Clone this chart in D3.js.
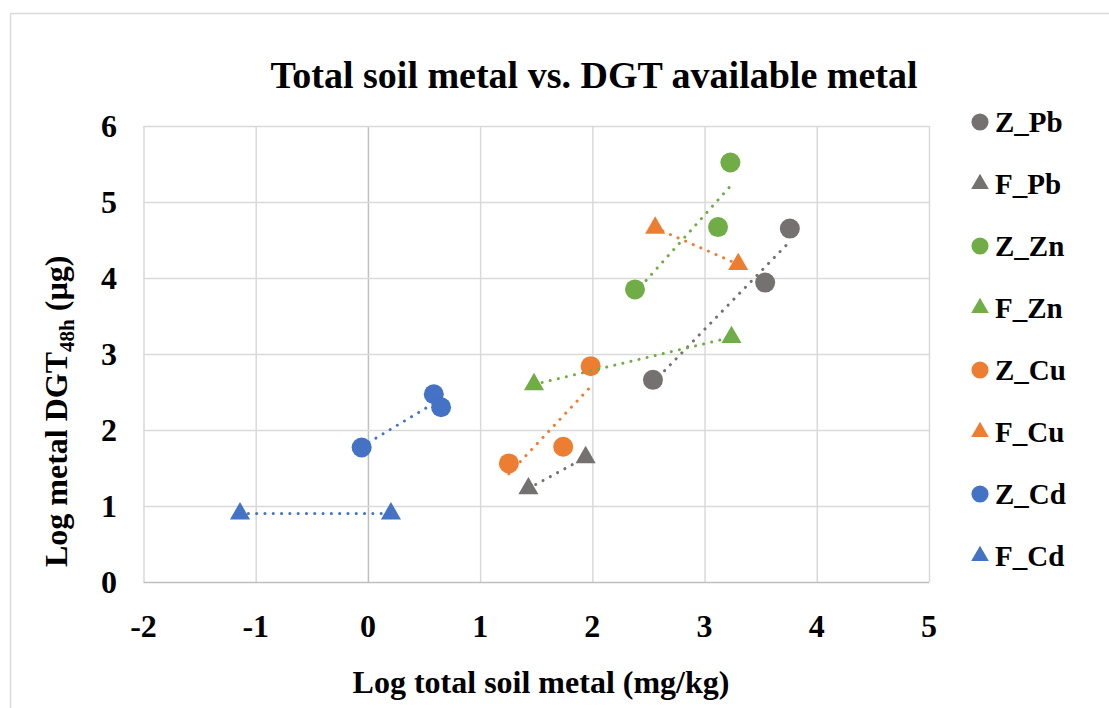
<html>
<head>
<meta charset="utf-8">
<title>Total soil metal vs. DGT available metal</title>
<script src="https://cdnjs.cloudflare.com/ajax/libs/d3/7.8.5/d3.min.js"></script>
<style>
  body { margin: 0; background: #fff; }
  text { font-family: "Liberation Serif", "Times New Roman", serif; font-weight: bold; fill: #000; }
</style>
</head>
<body>
<script>
// data: [log total soil metal, log DGT metal]
var zPb = [[2.54, 2.66], [3.54, 3.94], [3.76, 4.65]];
var fPb = [[1.43, 1.23], [1.94, 1.64]];
var zZn = [[2.38, 3.85], [3.12, 4.67], [3.23, 5.52]];
var fZn = [[1.48, 2.60], [3.24, 3.22]];
var zCu = [[1.256, 1.56], [1.74, 1.78], [1.985, 2.84]];
var fCu = [[2.56, 4.66], [3.30, 4.18]];
var zCd = [[-0.056, 1.77], [0.587, 2.47], [0.652, 2.30]];
var fCd = [[-1.14, 0.90], [0.205, 0.90]];

var seriesNames = ["Z_Pb", "F_Pb", "Z_Zn", "F_Zn", "Z_Cu", "F_Cu", "Z_Cd", "F_Cd"];
var xTicks = [-2, -1, 0, 1, 2, 3, 4, 5];
var yTicks = [0, 1, 2, 3, 4, 5, 6];

var width = 1109, height = 708;
var plotLeft = 143.5, plotRight = 929, plotTop = 126, plotBottom = 582;

var gray = "#767171", green = "#70ad47", orange = "#ed7d31", blue = "#4472c4";
var series = [
  { name: seriesNames[0], pts: zPb, color: gray, shape: "circle" },
  { name: seriesNames[1], pts: fPb, color: gray, shape: "triangle" },
  { name: seriesNames[2], pts: zZn, color: green, shape: "circle" },
  { name: seriesNames[3], pts: fZn, color: green, shape: "triangle" },
  { name: seriesNames[4], pts: zCu, color: orange, shape: "circle" },
  { name: seriesNames[5], pts: fCu, color: orange, shape: "triangle" },
  { name: seriesNames[6], pts: zCd, color: blue, shape: "circle" },
  { name: seriesNames[7], pts: fCd, color: blue, shape: "triangle" }
];

var svg = d3.select("body").append("svg")
  .attr("width", width)
  .attr("height", height);

// outer chart border
svg.append("rect")
  .attr("x", 10.5).attr("y", 13.5)
  .attr("width", width).attr("height", height)
  .attr("fill", "#fff")
  .attr("stroke", "#d9d9d9")
  .attr("stroke-width", 1.5);

var xScale = d3.scaleLinear().domain([-2, 5]).range([plotLeft, plotRight]);
var yScale = d3.scaleLinear().domain([0, 6]).range([plotBottom, plotTop]);

// gridlines
svg.append("g")
  .attr("transform", "translate(0," + plotBottom + ")")
  .call(d3.axisBottom(xScale).tickValues(xTicks).tickSize(-(plotBottom - plotTop)).tickFormat(""))
  .call(function(g) { g.select(".domain").remove(); })
  .selectAll(".tick line")
  .attr("stroke", function(d) { return d === 0 ? "#bfbfbf" : "#d9d9d9"; })
  .attr("stroke-width", 1.5);

svg.append("g")
  .attr("transform", "translate(" + plotLeft + ",0)")
  .call(d3.axisLeft(yScale).tickValues(yTicks).tickSize(-(plotRight - plotLeft)).tickFormat(""))
  .call(function(g) { g.select(".domain").remove(); })
  .selectAll(".tick line")
  .attr("stroke", function(d) { return d === 0 ? "#bfbfbf" : "#d9d9d9"; })
  .attr("stroke-width", 1.5);

// tick labels
svg.selectAll(null)
  .data(xTicks)
  .enter().append("text")
  .attr("x", function(d) { return xScale(d); })
  .attr("y", 637)
  .attr("text-anchor", "middle")
  .style("font-size", "32px")
  .text(function(d) { return d; });

svg.selectAll(null)
  .data(yTicks)
  .enter().append("text")
  .attr("x", 117)
  .attr("y", function(d) { return yScale(d) + 11; })
  .attr("text-anchor", "end")
  .style("font-size", "32px")
  .text(function(d) { return d; });

// linear trendlines (least squares, like Excel)
function trend(pts) {
  var mx = d3.mean(pts, function(p) { return p[0]; });
  var my = d3.mean(pts, function(p) { return p[1]; });
  var sxy = d3.sum(pts, function(p) { return (p[0] - mx) * (p[1] - my); });
  var sxx = d3.sum(pts, function(p) { return (p[0] - mx) * (p[0] - mx); });
  var b = sxy / sxx, a = my - b * mx;
  var x0 = d3.min(pts, function(p) { return p[0]; });
  var x1 = d3.max(pts, function(p) { return p[0]; });
  return [[x0, a + b * x0], [x1, a + b * x1]];
}

var symCircle = d3.symbol().type(d3.symbolCircle).size(314);
var symTri = d3.symbol().type(d3.symbolTriangle).size(175);

series.forEach(function(s) {
  svg.selectAll(null)
    .data(s.pts)
    .enter().append("path")
    .attr("transform", function(d) { return "translate(" + xScale(d[0]) + "," + yScale(d[1]) + ")"; })
    .attr("d", s.shape === "circle" ? symCircle : symTri)
    .attr("fill", s.color);
});

var line = d3.line()
  .x(function(d) { return xScale(d[0]); })
  .y(function(d) { return yScale(d[1]); });

series.forEach(function(s) {
  svg.append("path")
    .datum(trend(s.pts))
    .attr("d", line)
    .attr("fill", "none")
    .attr("stroke", s.color)
    .attr("stroke-width", 3)
    .attr("stroke-linecap", "round")
    .attr("stroke-dasharray", "0.1 8.2");
});

// legend
var legSym = d3.symbol().type(d3.symbolCircle).size(230);
var legTri = d3.symbol().type(d3.symbolTriangle).size(135);
var leg = svg.selectAll(null)
  .data(series)
  .enter().append("g")
  .attr("transform", function(d, i) { return "translate(980," + (122 + i * 62) + ")"; });
leg.append("path")
  .attr("d", function(d) { return d.shape === "circle" ? legSym() : legTri(); })
  .attr("fill", function(d) { return d.color; });
leg.append("text")
  .attr("x", 15)
  .attr("y", 10)
  .style("font-size", "29px")
  .text(function(d) { return d.name; });

// titles
svg.append("text")
  .attr("x", 594)
  .attr("y", 88)
  .attr("text-anchor", "middle")
  .style("font-size", "38px")
  .text("Total soil metal vs. DGT available metal");

svg.append("text")
  .attr("x", 541)
  .attr("y", 693)
  .attr("text-anchor", "middle")
  .style("font-size", "32px")
  .text("Log total soil metal (mg/kg)");

var yt = svg.append("text")
  .attr("transform", "translate(67,567) rotate(-90)")
  .attr("text-anchor", "start")
  .style("font-size", "32px");
yt.append("tspan").text("Log metal DGT");
yt.append("tspan").attr("dy", 7).style("font-size", "21px").text("48h");
yt.append("tspan").attr("dy", -7).text(" (\u00b5g)");
</script>
</body>
</html>
